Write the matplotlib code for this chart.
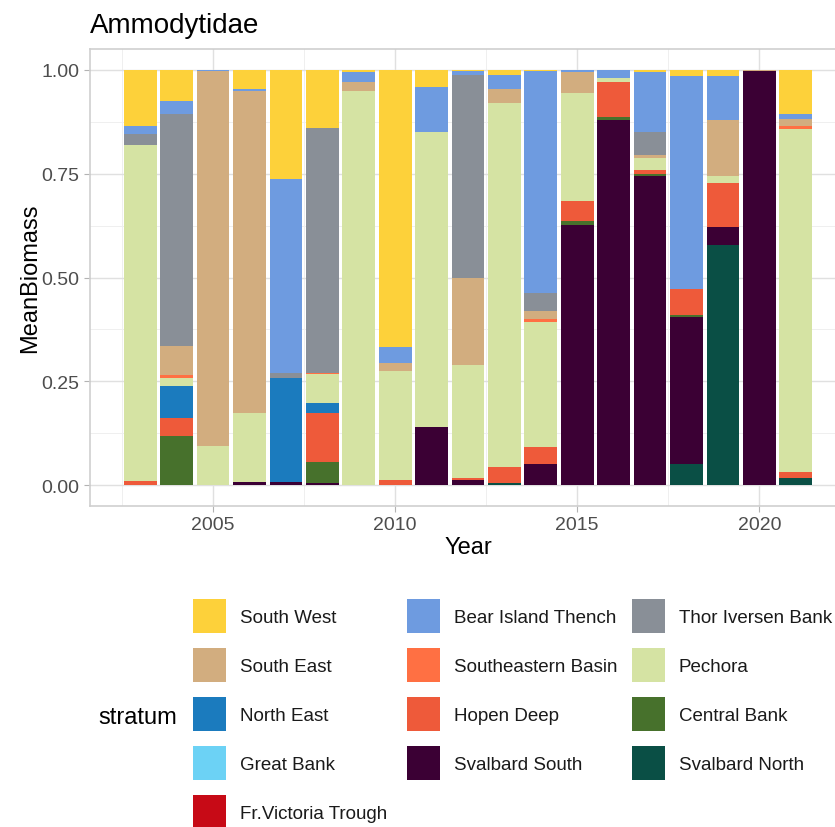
import numpy as np
import matplotlib.pyplot as plt
from matplotlib.patches import Rectangle

plt.rcParams['font.family'] = ['Liberation Sans', 'DejaVu Sans']

years = np.arange(2003, 2022)

# share of mean biomass per stratum and year
south_west = [.136, .074, 0, .046, .263, .139, .006, .668, .042, .004, .012, .004, 0, 0, .006, .015, .015, 0, .106]
bear_island = [.018, .032, .004, .004, .467, 0, .024, .038, .108, .008, .035, .533, .006, .020, .145, .513, .107, 0, .012]
thor_iversen = [.027, .558, 0, 0, .013, .590, 0, 0, 0, .490, 0, .043, 0, 0, .056, 0, 0, 0, 0]
south_east = [0, .071, .901, .775, 0, 0, .020, .018, 0, .209, .033, .020, .050, 0, .006, 0, .133, .003, .018]
southeastern_basin = [0, .006, 0, 0, 0, .004, 0, 0, 0, 0, 0, .008, 0, 0, 0, 0, 0, 0, .006]
pechora = [.809, .021, .095, .168, 0, .069, .950, .263, .711, .271, .875, .300, .259, .010, .030, 0, .017, 0, .826]
north_east = [0, .077, 0, 0, .249, .025, 0, 0, 0, 0, 0, 0, 0, 0, 0, 0, 0, 0, 0]
great_bank = [0] * 19
fr_victoria = [0] * 19
hopen_deep = [.010, .042, 0, 0, 0, .118, 0, .013, 0, .005, .040, .041, .050, .084, .010, .063, .107, 0, .014]
central_bank = [0, .119, 0, 0, 0, .049, 0, 0, 0, 0, 0, 0, .008, .008, .004, .005, 0, 0, 0]
svalbard_south = [0, 0, 0, .007, .008, .006, 0, 0, .139, .013, 0, .051, .627, .878, .747, .353, .043, .997, 0]
svalbard_north = [0, 0, 0, 0, 0, 0, 0, 0, 0, 0, .005, 0, 0, 0, 0, .051, .578, 0, .018]

strata = {
    'South West': (south_west, '#FDD13A'),
    'South East': (south_east, '#D2AD7F'),
    'North East': (north_east, '#1B7BBE'),
    'Great Bank': (great_bank, '#6CD2F5'),
    'Fr.Victoria Trough': (fr_victoria, '#C70A16'),
    'Bear Island Thench': (bear_island, '#6E9BE0'),
    'Southeastern Basin': (southeastern_basin, '#FF7043'),
    'Hopen Deep': (hopen_deep, '#EE5A3A'),
    'Svalbard South': (svalbard_south, '#3B0034'),
    'Thor Iversen Bank': (thor_iversen, '#898F97'),
    'Pechora': (pechora, '#D5E3A3'),
    'Central Bank': (central_bank, '#47712C'),
    'Svalbard North': (svalbard_north, '#0A4F45'),
}
# stacking order, bottom to top
stack_order = ['Svalbard North', 'Svalbard South', 'Central Bank', 'Fr.Victoria Trough',
               'Hopen Deep', 'Great Bank', 'North East', 'Pechora', 'Southeastern Basin',
               'South East', 'Thor Iversen Bank', 'Bear Island Thench', 'South West']

W, H = 835, 828
fig = plt.figure(figsize=(W / 100, H / 100), dpi=100)

def fx(px):
    return px / W

def fy(py):
    return 1 - py / H

ax = fig.add_axes([fx(90), fy(507), fx(846 - 90), (507 - 50) / H])

total = np.sum([strata[k][0] for k in stack_order], axis=0)
bottom = np.zeros(len(years))
for name in stack_order:
    vals, col = strata[name]
    share = np.array(vals) / total
    ax.bar(years, share, width=0.9, bottom=bottom, color=col, linewidth=0, zorder=3)
    bottom += share

ax.set_xlim(2001.62, 2022.38)
ax.set_ylim(-0.05, 1.05)
ax.set_xticks([2005, 2010, 2015, 2020])
ax.set_xticks([2002.5, 2007.5, 2012.5, 2017.5], minor=True)
ax.set_yticks([0, 0.25, 0.5, 0.75, 1.0])
ax.set_yticklabels(['0.00', '0.25', '0.50', '0.75', '1.00'])
ax.set_yticks([0.125, 0.375, 0.625, 0.875], minor=True)
ax.grid(which='major', color='#E0E0E0', linewidth=1.0, zorder=0)
ax.grid(which='minor', color='#EFEFEF', linewidth=0.7, zorder=0)
ax.tick_params(which='major', length=4.5, width=0.8, color='#B3B3B3',
               labelsize=14, labelcolor='#4D4D4D', pad=3)
ax.tick_params(which='minor', length=0)
for s in ax.spines.values():
    s.set_color('#CFCFCF')
    s.set_linewidth(1.2)

fig.text(fx(90), fy(33), 'Ammodytidae', fontsize=20, va='baseline', ha='left', color='black')
fig.text(fx(30), fy(278), 'MeanBiomass', fontsize=17, rotation=90, va='center', ha='center')
fig.text(fx(468), fy(548), 'Year', fontsize=17, va='center', ha='center')

# legend laid out like ggplot's 3 column guide
fig.text(fx(98), fy(716), 'stratum', fontsize=17, va='center_baseline', ha='left')
legend_cols = [['South West', 'South East', 'North East', 'Great Bank', 'Fr.Victoria Trough'],
               ['Bear Island Thench', 'Southeastern Basin', 'Hopen Deep', 'Svalbard South'],
               ['Thor Iversen Bank', 'Pechora', 'Central Bank', 'Svalbard North']]
key_x = [193, 407, 632]
for c, names in enumerate(legend_cols):
    for r, name in enumerate(names):
        yc = 617 + r * 49
        fig.add_artist(Rectangle((fx(key_x[c]), fy(yc + 17)), fx(33), 34 / H,
                                 transform=fig.transFigure, color=strata[name][1], linewidth=0))
        fig.text(fx(key_x[c] + 47), fy(yc), name, fontsize=13.5, va='center_baseline',
                 ha='left', color='#1A1A1A')

fig.savefig('out.png', dpi=100)
